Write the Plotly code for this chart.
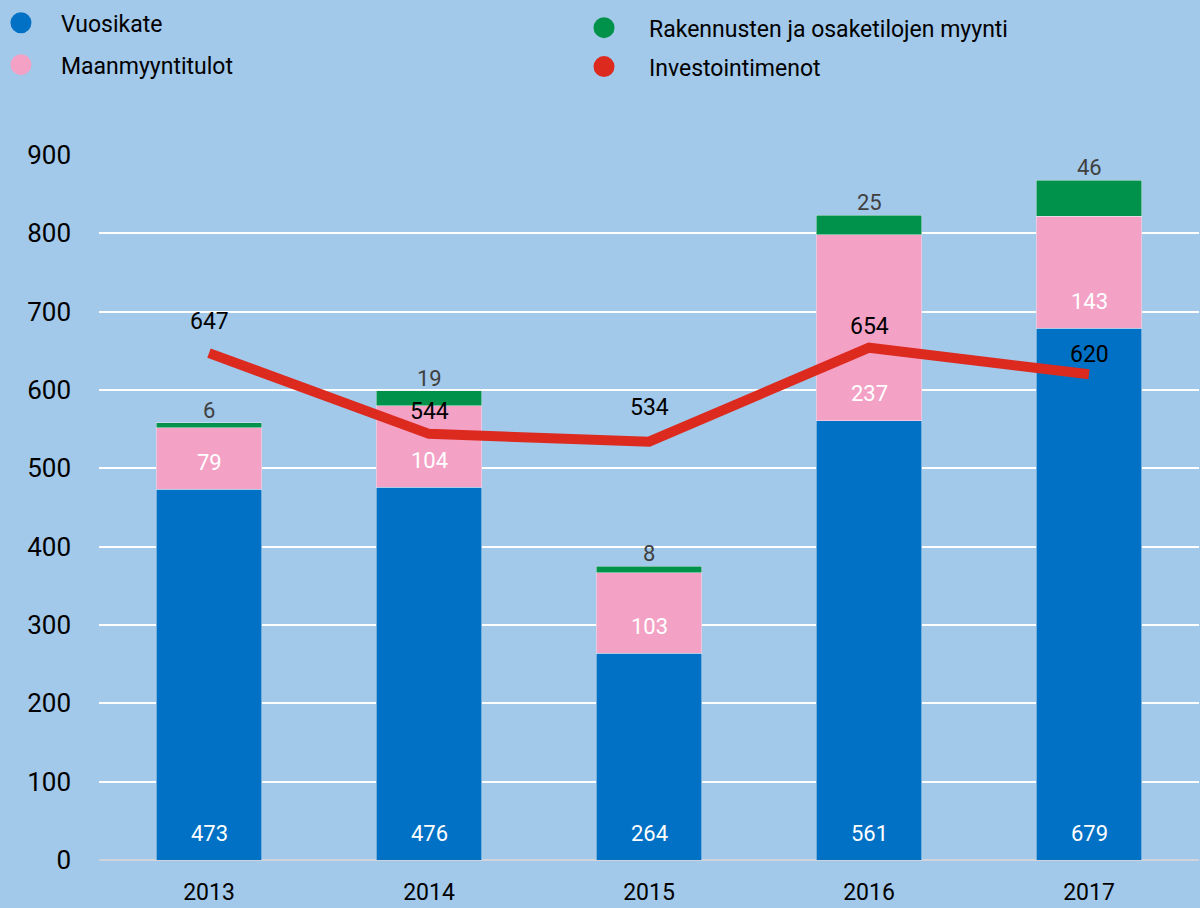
import plotly.graph_objects as go

years = ["2013", "2014", "2015", "2016", "2017"]
vuosikate = [473, 476, 264, 561, 679]
maanmyynti = [79, 104, 103, 237, 143]
rakennukset = [6, 19, 8, 25, 46]
investoinnit = [647, 544, 534, 654, 620]
y_ticks = [0, 100, 200, 300, 400, 500, 600, 700, 800, 900]

names = ["Vuosikate", "Maanmyyntitulot", "Rakennusten ja osaketilojen myynti", "Investointimenot"]

BG = "#A2C8EA"
BLUE = "#0071C5"
PINK = "#F4A1C6"
GREEN = "#00924A"
RED = "#DD2A1F"
FONT = "Roboto"

# label offsets (px) for the investment line labels
inv_shift = [32, 22, 34, 21, 20]

fig = go.Figure()
fig.add_trace(go.Bar(x=years, y=vuosikate, marker_color=BLUE, width=0.48, showlegend=False, name=names[0]))
fig.add_trace(go.Bar(x=years, y=maanmyynti, marker_color=PINK, width=0.48, showlegend=False, name=names[1]))
fig.add_trace(go.Bar(x=years, y=rakennukset, marker_color=GREEN, width=0.48, showlegend=False, name=names[2]))
fig.add_trace(go.Scatter(x=years, y=investoinnit, mode="lines", line=dict(color=RED, width=10),
                         showlegend=False, name=names[3]))

# legend entries (circles)
for nm, col, lg, grp in [(names[0], BLUE, "legend", "a"), (names[1], PINK, "legend", "b"),
                         (names[2], GREEN, "legend2", "c"), (names[3], RED, "legend2", "d")]:
    fig.add_trace(go.Scatter(x=[None], y=[None], mode="markers", name=nm, legend=lg, legendgroup=grp,
                             marker=dict(color=col, size=16, symbol="circle", line=dict(color=col, width=5))))

annotations = []
for i, yr in enumerate(years):
    annotations.append(dict(x=i, y=0, text=str(vuosikate[i]), showarrow=False, yshift=27,
                            font=dict(color="white", size=22, family=FONT)))
    annotations.append(dict(x=i, y=vuosikate[i], text=str(maanmyynti[i]), showarrow=False, yshift=27,
                            font=dict(color="white", size=22, family=FONT)))
    top = vuosikate[i] + maanmyynti[i] + rakennukset[i]
    annotations.append(dict(x=i, y=top, text=str(rakennukset[i]), showarrow=False, yanchor="bottom",
                            yshift=-2, font=dict(color="#404040", size=22, family=FONT)))
    annotations.append(dict(x=i, y=investoinnit[i], text=str(investoinnit[i]), showarrow=False,
                            yshift=inv_shift[i], font=dict(color="black", size=23, family=FONT)))

fig.update_layout(
    width=1200, height=908,
    barmode="stack",
    paper_bgcolor=BG, plot_bgcolor=BG,
    margin=dict(l=99, r=1, t=155, b=48, autoexpand=False),
    font=dict(family=FONT, size=22, color="black"),
    annotations=annotations,
    legend=dict(x=-0.1073, y=1.218, xanchor="left", yanchor="top", itemwidth=70,
                traceorder="grouped", tracegroupgap=9, bgcolor="rgba(0,0,0,0)",
                font=dict(size=23, family=FONT, color="black")),
    legend2=dict(x=0.4182, y=1.211, xanchor="left", yanchor="top", itemwidth=80,
                 traceorder="grouped", tracegroupgap=6, bgcolor="rgba(0,0,0,0)",
                 font=dict(size=23, family=FONT, color="black")),
    xaxis=dict(type="category", range=[-0.5, 4.5], showgrid=False, showline=False, zeroline=False,
               ticks="", tickfont=dict(size=23, family=FONT), ticklabelstandoff=16),
    yaxis=dict(range=[0, 900], tickvals=y_ticks, showgrid=True, gridcolor="white", gridwidth=2,
               zeroline=True, zerolinecolor="#D0D4DA", zerolinewidth=2, showline=False, ticks="",
               tickfont=dict(size=26, family=FONT), ticklabelstandoff=27),
)

fig.write_html("out.html", config={"displayModeBar": False},
               post_script="document.body.style.margin='0px';document.body.style.overflow='hidden';")
